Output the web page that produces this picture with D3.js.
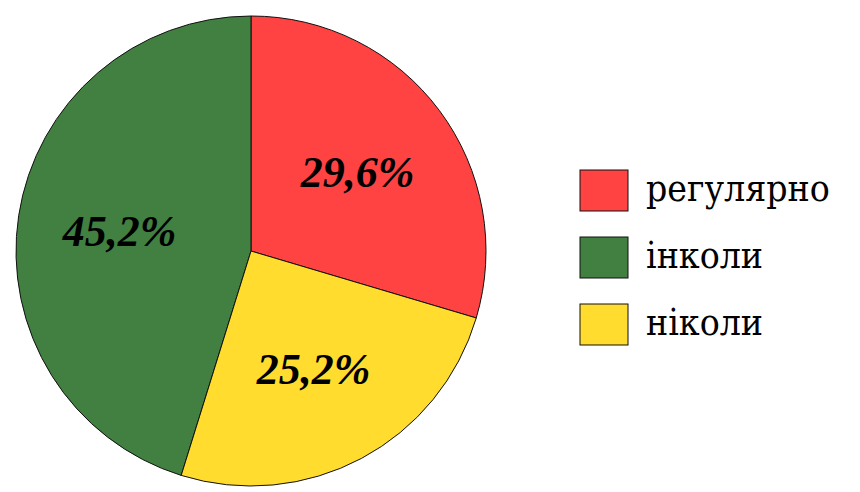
<!DOCTYPE html>
<html><head><meta charset="utf-8">
<script src="https://cdn.jsdelivr.net/npm/d3@7/dist/d3.min.js"></script>
<style>html,body{margin:0;padding:0;background:#fff;}</style>
</head><body>
<svg id="chart" width="860" height="492"></svg>
<script>
const categories = ["регулярно", "інколи", "ніколи"];
const values = [29.6, 45.2, 25.2];
const colors = ["#FF4343", "#418041", "#FFDC2E"];
const drawOrder = [0, 2, 1]; // clockwise from 12 o'clock

const svg = d3.select("#chart");
const cx = 251, cy = 251, r = 235;
const data = categories.map((c, i) => ({cat: c, value: values[i], color: colors[i], ord: drawOrder.indexOf(i)}));

const pie = d3.pie().value(d => d.value).sort((a, b) => a.ord - b.ord);
const arcs = pie(data);
const arc = d3.arc().innerRadius(0).outerRadius(r);
const labelArc = d3.arc().innerRadius(133).outerRadius(133);

const g = svg.append("g").attr("transform", `translate(${cx},${cy})`);
g.selectAll("path").data(arcs).join("path")
  .attr("d", arc).attr("fill", d => d.data.color)
  .attr("stroke", "#111").attr("stroke-width", 1);

g.selectAll("text").data(arcs).join("text")
  .attr("transform", d => `translate(${labelArc.centroid(d)})`)
  .attr("text-anchor", "middle").attr("dy", "0.35em")
  .attr("font-family", "Liberation Serif")
  .attr("font-weight", "bold").attr("font-style", "italic")
  .attr("font-size", 44).attr("fill", "#000")
  .text(d => d.data.value.toFixed(1).replace(".", ",") + "%");

const legend = svg.append("g");
const ly = d3.scalePoint().domain(categories).range([190.5, 324.5]);
const items = legend.selectAll("g").data(data).join("g")
  .attr("transform", d => `translate(580,${ly(d.cat)})`);
items.append("rect").attr("x", 0).attr("y", -20.5).attr("width", 48).attr("height", 41)
  .attr("fill", d => d.color).attr("stroke", "#111").attr("stroke-width", 1);
items.append("text").attr("x", 66).attr("y", 10)
  .attr("font-family", "DejaVu Serif").style("font-stretch", "condensed")
  .attr("font-size", 37).attr("fill", "#000")
  .text(d => d.cat);
</script>
</body></html>
